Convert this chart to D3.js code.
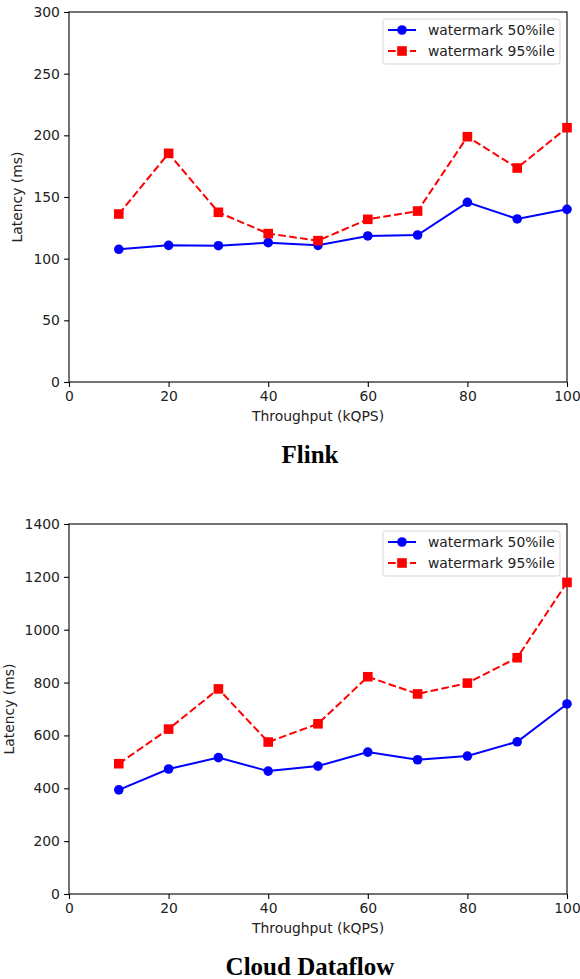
<!DOCTYPE html>
<html>
<head>
<meta charset="utf-8">
<script src="https://cdn.jsdelivr.net/npm/d3@7/dist/d3.min.js"></script>
<style>
  body { margin: 0; background: #fff; }
  text { font-family: "DejaVu Sans", sans-serif; fill: #222; }
  .title { font-family: "Liberation Serif", serif; font-weight: bold; fill: #000; }
</style>
</head>
<body>
<div id="chart"></div>
<script>
var throughput = [10, 20, 30, 40, 50, 60, 70, 80, 90, 100];

var flinkP50 = [107.6, 110.8, 110.5, 113, 110.8, 118.4, 119.2, 145.7, 132.2, 140];
var flinkP95 = [136.2, 185.4, 137.6, 120.3, 114.6, 131.9, 138.6, 198.9, 173.5, 206.2];

var dataflowP50 = [394, 473, 516, 465, 484, 537, 508, 522, 576, 719];
var dataflowP95 = [493, 624, 776, 575, 644, 822, 757, 798, 894, 1179];

var xTicks = [0, 20, 40, 60, 80, 100];
var flinkYTicks = [0, 50, 100, 150, 200, 250, 300];
var dataflowYTicks = [0, 200, 400, 600, 800, 1000, 1200, 1400];

var seriesNames = ["watermark 50%ile", "watermark 95%ile"];

var fontSize = "13.9px";

var svg = d3.select("#chart").append("svg")
  .attr("width", 580)
  .attr("height", 979);

function drawPanel(opts) {
  var left = 69, right = 567, top = opts.top, bottom = opts.top + 370;

  var x = d3.scaleLinear().domain([0, 100]).range([left, right]);
  var y = d3.scaleLinear().domain([0, opts.yMax]).range([bottom, top]);

  var g = svg.append("g");

  // axes
  var xAxis = g.append("g")
    .attr("transform", "translate(0," + bottom + ")")
    .call(d3.axisBottom(x).tickValues(xTicks).tickSize(4.9).tickPadding(4.2).tickFormat(d3.format("d")));
  var yAxis = g.append("g")
    .attr("transform", "translate(" + left + ",0)")
    .call(d3.axisLeft(y).tickValues(opts.yTicks).tickSize(4.9).tickPadding(4.2).tickFormat(d3.format("d")));

  [xAxis, yAxis].forEach(function(a) {
    a.select(".domain").remove();
    a.selectAll("line").attr("stroke", "#000").attr("stroke-width", 1.1);
    a.selectAll("text").style("font-size", fontSize).attr("fill", "#222");
  });

  // frame
  g.append("rect")
    .attr("x", left).attr("y", top)
    .attr("width", right - left).attr("height", bottom - top)
    .attr("fill", "none").attr("stroke", "#000").attr("stroke-width", 1.1);

  var line = d3.line()
    .x(function(d, i) { return x(throughput[i]); })
    .y(function(d) { return y(d); });

  g.append("path")
    .datum(opts.p95)
    .attr("d", line)
    .attr("fill", "none")
    .attr("stroke", "#ff0000")
    .attr("stroke-width", 2)
    .attr("stroke-dasharray", "7.7,3.3");

  g.append("path")
    .datum(opts.p50)
    .attr("d", line)
    .attr("fill", "none")
    .attr("stroke", "#0000ff")
    .attr("stroke-width", 2);

  g.selectAll(".p50").data(opts.p50).enter().append("circle")
    .attr("cx", function(d, i) { return x(throughput[i]); })
    .attr("cy", function(d) { return y(d); })
    .attr("r", 4.8)
    .attr("fill", "#0000ff");

  g.selectAll(".p95").data(opts.p95).enter().append("rect")
    .attr("x", function(d, i) { return x(throughput[i]) - 4.8; })
    .attr("y", function(d) { return y(d) - 4.8; })
    .attr("width", 9.6).attr("height", 9.6)
    .attr("fill", "#ff0000");

  // axis labels
  g.append("text")
    .attr("x", (left + right) / 2).attr("y", bottom + 39)
    .attr("text-anchor", "middle")
    .style("font-size", fontSize)
    .text("Throughput (kQPS)");

  g.append("text")
    .attr("transform", "translate(" + opts.yLabelX + "," + (top + bottom) / 2 + ") rotate(-90)")
    .attr("text-anchor", "middle")
    .style("font-size", fontSize)
    .text("Latency (ms)");

  // legend
  var lg = g.append("g").attr("transform", "translate(383," + (top + 7) + ")");
  lg.append("rect")
    .attr("width", 177).attr("height", 45).attr("rx", 2.5)
    .attr("fill", "#fff").attr("fill-opacity", 0.8)
    .attr("stroke", "#d6d6d6").attr("stroke-width", 1);

  seriesNames.forEach(function(name, i) {
    var ry = 11 + i * 21;
    lg.append("line")
      .attr("x1", 5).attr("x2", 33).attr("y1", ry).attr("y2", ry)
      .attr("stroke", i === 0 ? "#0000ff" : "#ff0000")
      .attr("stroke-width", 2)
      .attr("stroke-dasharray", i === 0 ? null : "7.7,3.3");
    if (i === 0) {
      lg.append("circle").attr("cx", 19).attr("cy", ry).attr("r", 4.8).attr("fill", "#0000ff");
    } else {
      lg.append("rect").attr("x", 14.2).attr("y", ry - 4.8).attr("width", 9.6).attr("height", 9.6).attr("fill", "#ff0000");
    }
    lg.append("text")
      .attr("x", 45).attr("y", ry + 5)
      .style("font-size", fontSize)
      .text(name);
  });

  // panel title
  svg.append("text")
    .attr("class", "title")
    .attr("x", 310).attr("y", opts.titleY)
    .attr("text-anchor", "middle")
    .style("font-size", "25px")
    .text(opts.title);
}

drawPanel({
  top: 12, yMax: 300, yTicks: flinkYTicks,
  p50: flinkP50, p95: flinkP95,
  yLabelX: 22, title: "Flink", titleY: 463
});

drawPanel({
  top: 524, yMax: 1400, yTicks: dataflowYTicks,
  p50: dataflowP50, p95: dataflowP95,
  yLabelX: 14, title: "Cloud Dataflow", titleY: 975
});
</script>
</body>
</html>
